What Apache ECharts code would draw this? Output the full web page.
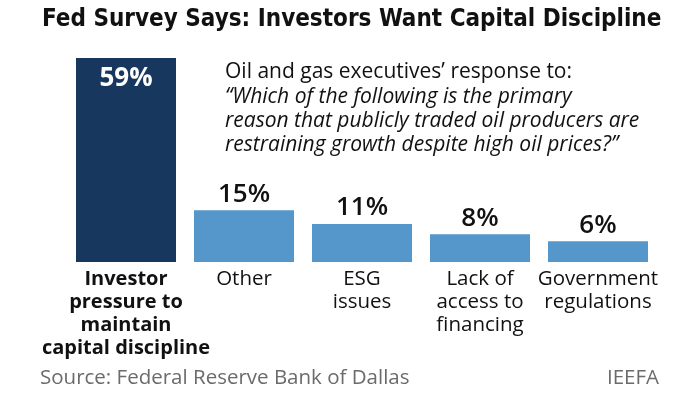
<!DOCTYPE html>
<html>
<head>
<meta charset="utf-8">
<script src="https://cdn.jsdelivr.net/npm/echarts@6/dist/echarts.min.js"></script>
<style>
  html, body { margin: 0; padding: 0; background: #fff; }
  #chart { width: 693px; height: 398px; }
</style>
</head>
<body>
<div id="chart"></div>
<script>
// survey answers
const categories = [
  'Investor\npressure to\nmaintain\ncapital discipline',
  'Other',
  'ESG\nissues',
  'Lack of\naccess to\nfinancing',
  'Government\nregulations'
]
const shares = [59, 15, 11, 8, 6]

const DARK = '#17375e'
const LIGHT = '#5596cb'
const BODY_FONT = '"Open Sans", Lato, sans-serif'

const chart = echarts.init(document.getElementById('chart'))

chart.setOption({
  animation: false,
  title: [
    {
      text: 'Fed Survey Says: Investors Want Capital Discipline',
      left: 42,
      top: 8,
      padding: 0,
      textStyle: {
        fontFamily: '"Liberation Sans Narrow", "DejaVu Sans Condensed", sans-serif',
        fontWeight: 'bold',
        fontSize: 24,
        color: '#111'
      }
    },
    {
      text: '{n|Oil and gas executives\u2019 response to:}\n' +
        '{i|\u201cWhich of the following is the primary}\n' +
        '{i|reason that publicly traded oil producers are}\n' +
        '{i|restraining growth despite high oil prices?\u201d}',
      left: 225,
      top: 60,
      padding: 0,
      textStyle: {
        rich: {
          n: { fontFamily: BODY_FONT, fontSize: 21, fontWeight: 'normal', color: '#111', lineHeight: 25 },
          i: { fontFamily: BODY_FONT, fontSize: 21, fontWeight: 'normal', fontStyle: 'italic', color: '#111', lineHeight: 24 }
        }
      }
    },
    {
      text: 'Source: Federal Reserve Bank of Dallas',
      left: 40,
      top: 368,
      padding: 0,
      textStyle: { fontFamily: BODY_FONT, fontWeight: 'normal', fontSize: 20.5, color: '#6b6b6b' }
    },
    {
      text: 'IEEFA',
      right: 34,
      top: 368,
      padding: 0,
      textStyle: { fontFamily: BODY_FONT, fontWeight: 'normal', fontSize: 20.5, color: '#6b6b6b' }
    }
  ],
  grid: {
    left: 67,
    width: 590,
    top: 58,
    height: 204
  },
  xAxis: {
    type: 'category',
    data: categories,
    axisLine: { show: false },
    axisTick: { show: false },
    axisLabel: {
      interval: 0,
      margin: 6,
      verticalAlign: 'top',
      formatter: (v, i) => i === 0 ? '{b|' + v.split('\n').join('}\n{b|') + '}' : v,
      fontFamily: BODY_FONT,
      fontSize: 20.5,
      lineHeight: 23,
      color: '#111',
      rich: {
        b: { fontFamily: BODY_FONT, fontSize: 20, fontWeight: 'bold', lineHeight: 23, color: '#111' }
      }
    }
  },
  yAxis: {
    type: 'value',
    min: 0,
    max: 59,
    show: false
  },
  series: [
    {
      type: 'bar',
      barWidth: 100,
      data: shares.map((v, i) => ({
        value: v,
        itemStyle: { color: i === 0 ? DARK : LIGHT },
        label: i === 0
          ? { position: 'insideTop', distance: 8, color: '#fff', fontWeight: 'bold' }
          : { position: 'top', distance: 3, color: '#111', fontWeight: 600 }
      })),
      label: {
        show: true,
        formatter: '{c}%',
        fontFamily: BODY_FONT,
        fontSize: 26
      }
    }
  ]
})
</script>
</body>
</html>
